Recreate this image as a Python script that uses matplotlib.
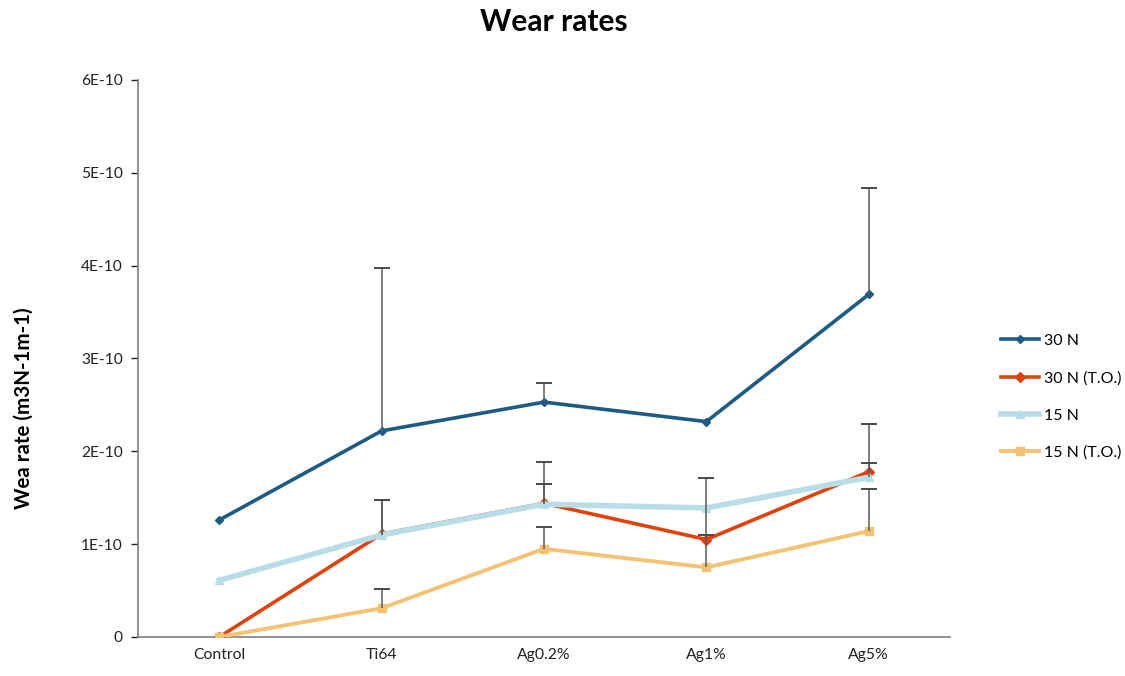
import matplotlib
matplotlib.use("Agg")
import matplotlib.pyplot as plt
from matplotlib.ticker import FuncFormatter
from matplotlib.lines import Line2D

plt.rcParams["font.family"] = ["Lato", "DejaVu Sans"]

categories = ["Control", "Ti64", "Ag0.2%", "Ag1%", "Ag5%"]

# Wear rates (m3 N-1 m-1)
n30 = [1.26e-10, 2.22e-10, 2.53e-10, 2.32e-10, 3.69e-10]
n30_to = [0.0, 1.11e-10, 1.44e-10, 1.05e-10, 1.78e-10]
n15 = [0.61e-10, 1.10e-10, 1.43e-10, 1.39e-10, 1.72e-10]
n15_to = [0.0, 0.31e-10, 0.95e-10, 0.75e-10, 1.14e-10]

# Upper error bars (standard deviation)
n30_err = [0.0, 1.75e-10, 0.21e-10, 0.0, 1.15e-10]
n30_to_err = [0.0, 0.37e-10, 0.45e-10, 0.66e-10, 0.51e-10]
n15_err = [0.0, 0.38e-10, 0.22e-10, 0.0, 0.15e-10]
n15_to_err = [0.0, 0.21e-10, 0.24e-10, 0.35e-10, 0.45e-10]

series = [
    ("30 N", n30, n30_err, "#1d5b85", "D", 4.5, 2.6),
    ("30 N (T.O.)", n30_to, n30_to_err, "#e0420c", "D", 5.5, 2.6),
    ("15 N", n15, n15_err, "#b8dde8", "^", 6, 4.0),
    ("15 N (T.O.)", n15_to, n15_to_err, "#f5c274", "s", 6, 2.8),
]

fig = plt.figure(figsize=(11.25, 6.76), dpi=100)
ax = fig.add_axes([0.1227, 0.0577, 0.7217, 0.824])

x = list(range(len(categories)))
handles = []
for i, (name, vals, err, color, marker, ms, lw) in enumerate(series):
    ax.plot(x, vals, color=color, marker=marker, markersize=ms,
            linewidth=lw, zorder=3 + i)
    handles.append(Line2D([], [], color=color, marker=marker, markersize=ms,
                          linewidth=lw))
    # upper-only error bars with a cap at the top
    for xi, v, e in zip(x, vals, err):
        if e > 0:
            ax.vlines(xi, v, v + e, color="#5a5a5a", linewidth=1.1, zorder=8)
            ax.plot([xi], [v + e], marker="_", markersize=12,
                    markeredgewidth=1.4, color="#4a4a4a", zorder=8)

ax.set_xlim(-0.5, 4.5)
ax.set_ylim(0, 6e-10)
ax.set_xticks(x)
ax.set_xticklabels(categories, fontsize=11.3, color="#222222")
ax.set_yticks([i * 1e-10 for i in range(7)])


def fmt(v, pos):
    k = int(round(v / 1e-10))
    return "0" if k == 0 else f"{k}E-10"


ax.yaxis.set_major_formatter(FuncFormatter(fmt))
ax.tick_params(axis="y", labelsize=11.2, colors="#222222", length=5,
               width=1, direction="out", pad=6)
ax.tick_params(axis="x", length=0, pad=8)
for side in ("top", "right"):
    ax.spines[side].set_visible(False)
for side in ("left", "bottom"):
    ax.spines[side].set_color("#7f7f7f")
    ax.spines[side].set_linewidth(1.2)
ax.yaxis.get_offset_text().set_visible(False)

ax.set_ylabel("Wea rate (m3N-1m-1)", fontsize=14.8, fontweight="bold")
ax.yaxis.set_label_coords(-0.128, 0.41)

fig.suptitle("Wear rates", fontsize=21.5, fontweight="bold", x=0.492, y=0.988)

fig.legend(handles, [s[0] for s in series], loc="center left",
           bbox_to_anchor=(0.877, 0.413), frameon=False, fontsize=11.5,
           handlelength=2.4, handletextpad=0.3, labelspacing=1.45)

fig.savefig("out.png", dpi=100)
